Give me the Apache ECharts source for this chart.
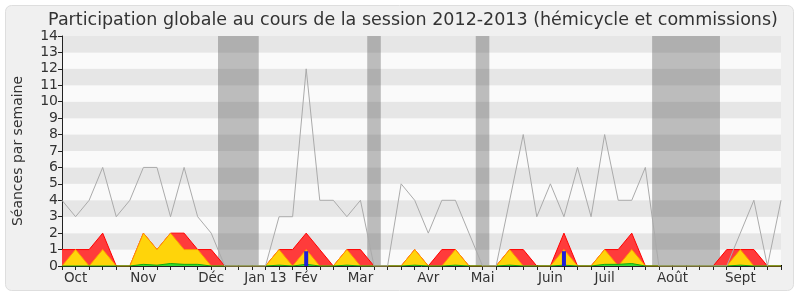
<!DOCTYPE html>
<html><head><meta charset="utf-8">
<script src="https://cdn.jsdelivr.net/npm/echarts@6/dist/echarts.min.js"></script>
<style>html,body{margin:0;padding:0;background:#fff}#c{width:800px;height:300px}</style>
</head><body><div id="c"></div>
<script>
// week indices 0..53
const weeks = Array.from({length: 54}, (_, i) => i);
const total  = [4,3,4,6,3,4,6,6,3,6,3,2,0,0,0,0,3,3,12,4,4,3,4,0,0,5,4,2,4,4,2,0,0,4,8,3,5,3,6,3,8,4,4,6,0,0,0,0,0,0,2,4,0,4];
const red    = [1,1,1,2,0,0,2,1,2,2,1,1,0,0,0,0,1,1,2,1,0,1,1,0,0,0,1,0,1,1,0,0,0,1,1,0,0,2,0,0,1,1,2,0,0,0,0,0,0,1,1,1,0,0];
const yellow = [0,1,0,1,0,0,2,1,2,1,1,0,0,0,0,0,1,0,1,0,0,1,0,0,0,0,1,0,0,1,0,0,0,1,0,0,0,1,0,0,1,0,1,0,0,0,0,0,0,0,1,0,0,0];
const green  = [0,0,0,0,0,0,0.1,0.05,0.15,0.1,0.1,0,0,0,0,0,0.05,0,0.1,0,0,0.05,0,0,0,0,0.05,0,0,0.05,0,0,0,0.05,0,0,0,0.05,0,0,0.1,0.1,0.15,0,0,0,0,0,0,0,0.05,0,0,0];
const blueIdx = [18, 37];
const blueVal = [0.9, 0.9];
const monthIdx = [1, 6, 11, 15, 18, 22, 27, 31, 36, 40, 45, 50];
const monthLbl = ['Oct','Nov','Déc','Jan 13','Fév','Mar','Avr','Mai','Juin','Juil','Août','Sept'];
const vacStart = [11.5, 22.5, 30.5, 43.5];
const vacEnd   = [14.5, 23.5, 31.5, 48.5];

const pairs = arr => weeks.map(i => [i, arr[i]]);
const F = 'DejaVu Sans';
const chart = echarts.init(document.getElementById('c'), null, {renderer: 'canvas'});
chart.setOption({
  animation: false,
  backgroundColor: '#fff',
  graphic: [{type: 'rect', z: -10, shape: {x: 5.5, y: 5.5, width: 788, height: 285, r: 6},
    style: {fill: '#f0f0f0', stroke: '#dedede', lineWidth: 1}}],
  title: {text: 'Participation globale au cours de la session 2012-2013 (hémicycle et commissions)',
    left: 408, textAlign: 'center', top: 6,
    textStyle: {fontFamily: F, fontSize: 17.5, fontWeight: 'normal', color: '#333'}},
  grid: {left: 62, right: 19, top: 36, bottom: 34},
  xAxis: [{
    type: 'value', min: 0, max: 53, interval: 1, position: 'bottom',
    axisLine: {show: true, onZero: false, lineStyle: {color: '#222', width: 1}},
    axisTick: {show: true, length: 4, lineStyle: {color: '#222'}},
    splitLine: {show: false},
    axisLabel: {show: true, showMinLabel: true, showMaxLabel: true, margin: 5, fontFamily: F, fontSize: 13.5, color: '#333',
      formatter: v => { const k = monthIdx.indexOf(Math.round(v)); return k >= 0 ? monthLbl[k] : ''; }}
  }, {
    type: 'value', min: 0, max: 53, interval: 1, position: 'top',
    axisLine: {show: false}, axisTick: {show: true, length: 1, lineStyle: {color: '#000'}},
    axisLabel: {show: false}, splitLine: {show: false}
  }],
  yAxis: {
    type: 'value', min: 0, max: 14, interval: 1,
    name: 'Séances par semaine', nameLocation: 'middle', nameGap: 37, nameRotate: 90,
    nameTextStyle: {fontFamily: F, fontSize: 14, color: '#333'},
    axisLine: {show: true, lineStyle: {color: '#222'}},
    axisTick: {show: true, length: 4, lineStyle: {color: '#222'}},
    axisLabel: {fontFamily: F, fontSize: 14, color: '#333', margin: 4},
    splitLine: {show: false},
    splitArea: {show: true, areaStyle: {color: ['#fafafa', '#e6e6e6']}}
  },
  series: [
    {type: 'line', name: 'red', data: pairs(red), symbol: 'none', z: 2,
      lineStyle: {color: '#ff0000', width: 1}, areaStyle: {color: '#ff3b3b', opacity: 1},
      markArea: {silent: true, itemStyle: {color: 'rgba(77,77,77,0.36)'},
        data: vacStart.map((s, k) => [{xAxis: s}, {xAxis: vacEnd[k]}])}},
    {type: 'line', name: 'yellow', data: pairs(yellow), symbol: 'none', z: 3,
      lineStyle: {color: '#ff9900', width: 1}, areaStyle: {color: '#ffd40a', opacity: 1}},
    {type: 'line', name: 'green', data: pairs(green), symbol: 'none', z: 4,
      lineStyle: {color: '#11aa11', width: 1}, areaStyle: {color: '#33dd33', opacity: 1}},
    {type: 'bar', name: 'blue', data: blueIdx.map((x, k) => [x, blueVal[k]]), barWidth: 4, z: 5,
      itemStyle: {color: '#1f1fd6'}},
    {type: 'line', name: 'total', data: pairs(total), symbol: 'none', z: 6,
      lineStyle: {color: '#aaaaaa', width: 1}}
  ]
});
</script></body></html>
